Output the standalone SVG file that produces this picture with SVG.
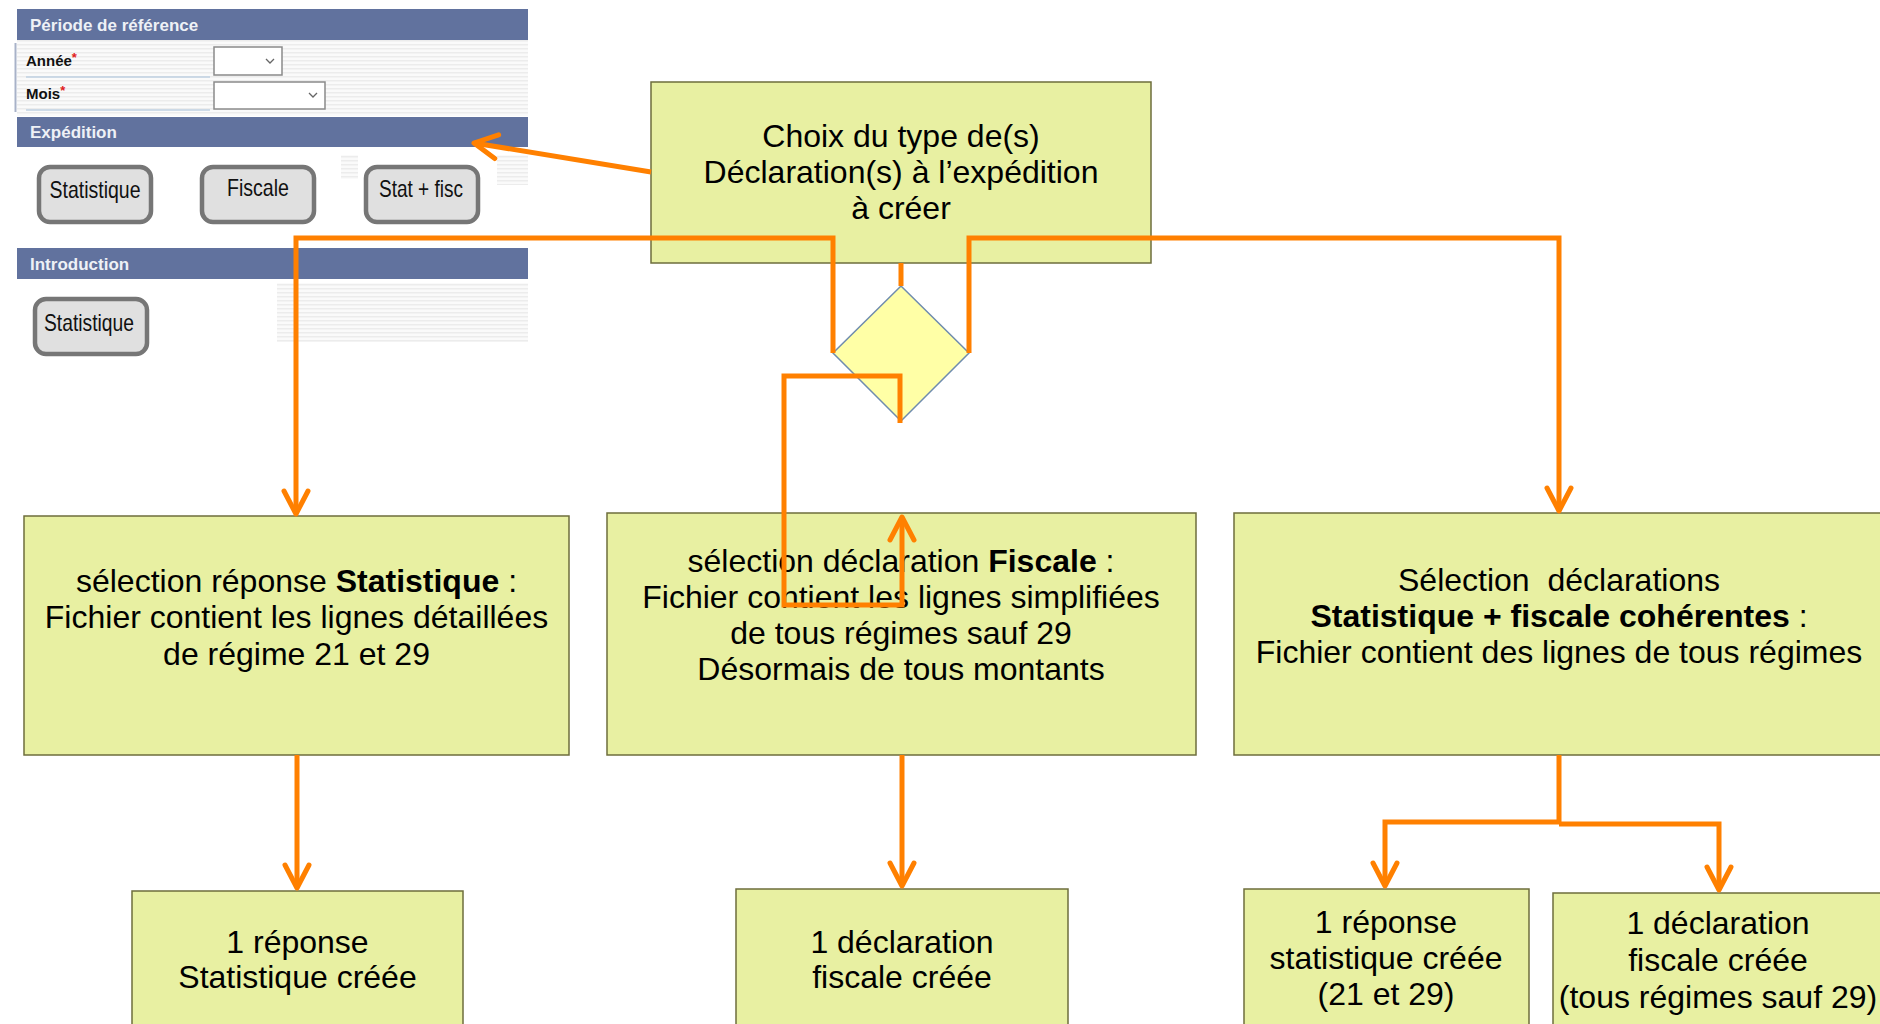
<svg xmlns="http://www.w3.org/2000/svg" width="1880" height="1024" viewBox="0 0 1880 1024">
<defs>
<style>
.box{fill:#E8F0A2;stroke:#6E6E3C;stroke-width:1.5}
.t{font-family:"Liberation Sans",Arial,sans-serif;font-size:32px;fill:#000;text-anchor:middle}
.b{font-weight:bold}
.hdr{fill:#61729E}
.ht{font-family:"Liberation Sans",Arial,sans-serif;font-size:17px;font-weight:bold;fill:#EEF1F6}
.btn{fill:#E0E0E0;stroke:#767676;stroke-width:4.5}
.bt{font-family:"Liberation Sans",Arial,sans-serif;font-size:24px;fill:#111;text-anchor:middle}
.lbl{font-family:"Liberation Sans",Arial,sans-serif;font-size:15px;font-weight:bold;fill:#111}
.ast{fill:#E02020;font-family:"Liberation Sans",Arial,sans-serif;font-size:13px;font-weight:bold}
.sel{fill:#fff;stroke:#8A8A8A;stroke-width:1.5}
.conn{fill:none;stroke:#FF8000;stroke-width:5;stroke-linejoin:miter}
</style>
<pattern id="stripes" width="4" height="4" patternUnits="userSpaceOnUse">
<rect width="4" height="4" fill="#FAFAFA"/>
<rect width="4" height="1.5" fill="#ECECEC"/>
</pattern>
<marker id="arr" markerUnits="userSpaceOnUse" markerWidth="40" markerHeight="40" viewBox="-30 -20 40 40" refX="0" refY="0" orient="auto">
<path d="M-23,-12 L0,0 L-23,12" fill="none" stroke="#FF8000" stroke-width="5" stroke-linecap="round" stroke-linejoin="round"/>
</marker>
</defs>
<rect width="1880" height="1024" fill="#fff"/>

<g id="panel">
<rect x="17" y="40" width="511" height="76" fill="url(#stripes)"/>
<line x1="15.5" y1="43" x2="15.5" y2="112" stroke="#A8B2C8" stroke-width="2"/>
<rect class="hdr" x="17" y="9" width="511" height="31"/>
<text class="ht" x="30" y="31">Période de référence</text>
<text class="lbl" x="26" y="66">Année<tspan class="ast" dy="-4">*</tspan></text>
<text class="lbl" x="26" y="99">Mois<tspan class="ast" dy="-4">*</tspan></text>
<line x1="26" y1="77" x2="210" y2="77" stroke="#BFD0E2" stroke-width="1.5"/>
<line x1="26" y1="110" x2="210" y2="110" stroke="#BFD0E2" stroke-width="1.5"/>
<rect class="sel" x="214" y="47" width="68" height="28"/>
<polyline points="266,59 270,63 274,59" fill="none" stroke="#666" stroke-width="1.3"/>
<rect class="sel" x="214" y="82" width="111" height="27"/>
<polyline points="309,93 313,97 317,93" fill="none" stroke="#666" stroke-width="1.3"/>
<rect class="hdr" x="17" y="117" width="511" height="30"/>
<text class="ht" x="30" y="138">Expédition</text>
<rect x="341" y="155" width="17" height="24" fill="url(#stripes)"/>
<rect x="497" y="155" width="31" height="30" fill="url(#stripes)"/>
<rect class="btn" x="39" y="167" width="112" height="55" rx="11"/>
<text class="bt" x="95" y="198" textLength="91" lengthAdjust="spacingAndGlyphs">Statistique</text>
<rect class="btn" x="202" y="167" width="112" height="55" rx="11"/>
<text class="bt" x="258" y="196" textLength="62" lengthAdjust="spacingAndGlyphs">Fiscale</text>
<rect class="btn" x="366" y="167" width="112" height="55" rx="11"/>
<text class="bt" x="421" y="197" textLength="84" lengthAdjust="spacingAndGlyphs">Stat + fisc</text>
<rect class="hdr" x="17" y="248" width="511" height="31"/>
<text class="ht" x="30" y="270">Introduction</text>
<rect x="277" y="283" width="251" height="59" fill="url(#stripes)"/>
<rect class="btn" x="35" y="299" width="112" height="55" rx="11"/>
<text class="bt" x="89" y="331" textLength="90" lengthAdjust="spacingAndGlyphs">Statistique</text>
</g>

<g id="choix">
<rect class="box" x="651" y="82" width="500" height="181"/>
<text class="t" x="901" y="147">Choix du type de(s)</text>
<text class="t" x="901" y="183">Déclaration(s) à l’expédition</text>
<text class="t" x="901" y="219">à créer</text>
</g>

<g id="decision">
<polygon points="901,286 969,353 901,421 833,353" fill="#FFFFA6" stroke="#6F8CAE" stroke-width="1.5"/>
</g>

<g id="statistique">
<rect class="box" x="24" y="516" width="545" height="239"/>
<text class="t" x="296.5" y="592">sélection réponse <tspan class="b">Statistique</tspan> :</text>
<text class="t" x="296.5" y="628">Fichier contient les lignes détaillées</text>
<text class="t" x="296.5" y="665">de régime 21 et 29</text>
</g>

<g id="fiscale">
<rect class="box" x="607" y="513" width="589" height="242"/>
<text class="t" x="901" y="572">sélection déclaration <tspan class="b">Fiscale</tspan> :</text>
<text class="t" x="901" y="608">Fichier contient les lignes simplifiées</text>
<text class="t" x="901" y="644">de tous régimes sauf 29</text>
<text class="t" x="901" y="680">Désormais de tous montants</text>
</g>

<g id="statfisc">
<rect class="box" x="1234" y="513" width="652" height="242"/>
<text class="t" x="1559" y="591" style="white-space:pre">Sélection  déclarations</text>
<text class="t" x="1559" y="627"><tspan class="b">Statistique + fiscale cohérentes</tspan> :</text>
<text class="t" x="1559" y="663">Fichier contient des lignes de tous régimes</text>
</g>

<g id="res-stat">
<rect class="box" x="132" y="891" width="331" height="140"/>
<text class="t" x="297.5" y="953">1 réponse</text>
<text class="t" x="297.5" y="988">Statistique créée</text>
</g>

<g id="res-fisc">
<rect class="box" x="736" y="889" width="332" height="142"/>
<text class="t" x="902" y="953">1 déclaration</text>
<text class="t" x="902" y="988">fiscale créée</text>
</g>

<g id="res-stat2">
<rect class="box" x="1244" y="889" width="285" height="142"/>
<text class="t" x="1386" y="933">1 réponse</text>
<text class="t" x="1386" y="969">statistique créée</text>
<text class="t" x="1386" y="1005">(21 et 29)</text>
</g>

<g id="res-fisc2">
<rect class="box" x="1553" y="893" width="334" height="138"/>
<text class="t" x="1718" y="934">1 déclaration</text>
<text class="t" x="1718" y="971">fiscale créée</text>
<text class="t" x="1718" y="1008">(tous régimes sauf 29)</text>
</g>

<g id="connectors">
<path class="conn" d="M651,172 L474,143" marker-end="url(#arr)"/>
<path class="conn" d="M901,263 L901,286"/>
<path class="conn" d="M833,353 L833,238 L296,238 L296,514" marker-end="url(#arr)"/>
<path class="conn" d="M969,353 L969,238 L1559,238 L1559,511" marker-end="url(#arr)"/>
<path class="conn" d="M900,423 L900,376 L784,376 L784,605 L902,605 L902,517" marker-end="url(#arr)"/>
<path class="conn" d="M297,755 L297,888" marker-end="url(#arr)"/>
<path class="conn" d="M902,755 L902,886" marker-end="url(#arr)"/>
<path class="conn" d="M1559,755 L1559,822 L1385,822 L1385,886" marker-end="url(#arr)"/>
<path class="conn" d="M1559,824 L1719,824 L1719,890" marker-end="url(#arr)"/>
</g>
</svg>
